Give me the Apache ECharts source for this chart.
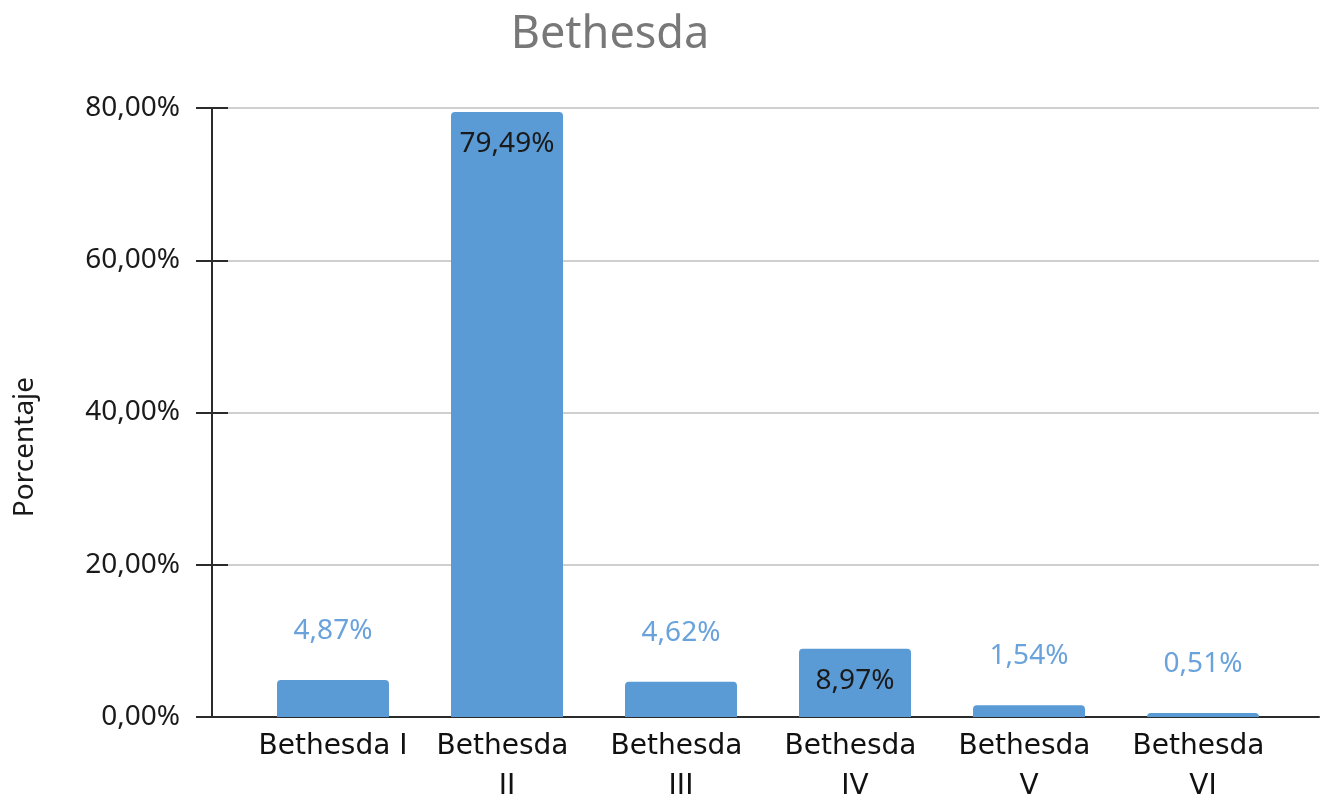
<!DOCTYPE html>
<html>
<head>
<meta charset="utf-8">
<script src="https://cdn.jsdelivr.net/npm/echarts@6/dist/echarts.min.js"></script>
<style>
  html, body { margin: 0; padding: 0; background: #ffffff; }
  #chart { width: 1321px; height: 801px; }
</style>
</head>
<body>
<div id="chart"></div>
<script>
// Share of each Bethesda category (percent)
const categories = ['Bethesda I', 'Bethesda II', 'Bethesda III', 'Bethesda IV', 'Bethesda V', 'Bethesda VI'];
const percentages = [4.87, 79.49, 4.62, 8.97, 1.54, 0.51];
const yTicks = { min: 0, max: 80, interval: 20 };

const BAR = '#5b9bd5';
const LABEL_BLUE = '#6aa3dc';
const INK = '#1a1a1a';
const INSIDE_MIN = 6; // bars taller than this carry their label inside

const pct = v => v.toFixed(2).replace('.', ',') + '%';

const chart = echarts.init(document.getElementById('chart'), null, { renderer: 'canvas' });

const barData = percentages.map(v => ({
  value: v,
  label: v > INSIDE_MIN
    ? { position: 'insideTop', distance: 18, color: INK }
    : { position: 'top', distance: 35, color: LABEL_BLUE }
}));

chart.setOption({
  animation: false,
  backgroundColor: '#ffffff',
  title: {
    text: 'Bethesda',
    left: 605,
    textAlign: 'center',
    top: 8,
    textStyle: { fontFamily: 'Noto Sans', fontSize: 45, fontWeight: 'normal', color: '#787878' }
  },
  grid: [
    // frame: value axis, gridlines and baseline
    { left: 212, right: 2, top: 108, bottom: 84, containLabel: false, outerBoundsMode: 'none' },
    // bars
    { left: 246, right: 31, top: 108, bottom: 84, containLabel: false, outerBoundsMode: 'none' }
  ],
  graphic: [{
    type: 'text',
    x: 25, y: 447,
    rotation: Math.PI / 2,
    style: {
      text: 'Porcentaje',
      fontFamily: 'Noto Sans', fontSize: 28, fill: INK,
      align: 'center', verticalAlign: 'middle'
    }
  }],
  xAxis: [
    {
      gridIndex: 0, type: 'value', min: 0, max: 1,
      axisLine: { show: true, lineStyle: { color: '#2b2b2b', width: 2 } },
      axisTick: { show: false }, axisLabel: { show: false }, splitLine: { show: false }
    },
    {
      gridIndex: 1, type: 'category', data: categories,
      axisLine: { show: false }, axisTick: { show: false },
      axisLabel: {
        interval: 0, margin: 10,
        fontFamily: 'DejaVu Sans', fontSize: 28, lineHeight: 40, color: '#111111',
        width: 152, overflow: 'break'
      }
    }
  ],
  yAxis: [
    {
      gridIndex: 0, type: 'value', min: yTicks.min, max: yTicks.max, interval: yTicks.interval,
      axisLine: { show: true, lineStyle: { color: '#2b2b2b', width: 2 } },
      axisTick: { show: true, inside: false, length: 16, lineStyle: { color: '#2b2b2b', width: 2 } },
      axisLabel: { margin: 32, fontFamily: 'Noto Sans', fontSize: 28, color: INK, formatter: pct },
      splitLine: { show: true, lineStyle: { color: '#cfcfcf', width: 2 } }
    },
    {
      gridIndex: 1, type: 'value', min: yTicks.min, max: yTicks.max, interval: yTicks.interval,
      offset: 34,
      axisLine: { show: false },
      axisTick: { show: true, inside: true, length: 16, lineStyle: { color: '#2b2b2b', width: 2 } },
      axisLabel: { show: false }, splitLine: { show: false }
    }
  ],
  series: [{
    type: 'bar',
    xAxisIndex: 1, yAxisIndex: 1,
    data: barData,
    barWidth: 112,
    itemStyle: { color: BAR, borderRadius: [4, 4, 0, 0] },
    label: { show: true, fontFamily: 'Noto Sans', fontSize: 28, formatter: p => pct(p.value) }
  }]
});
</script>
</body>
</html>
